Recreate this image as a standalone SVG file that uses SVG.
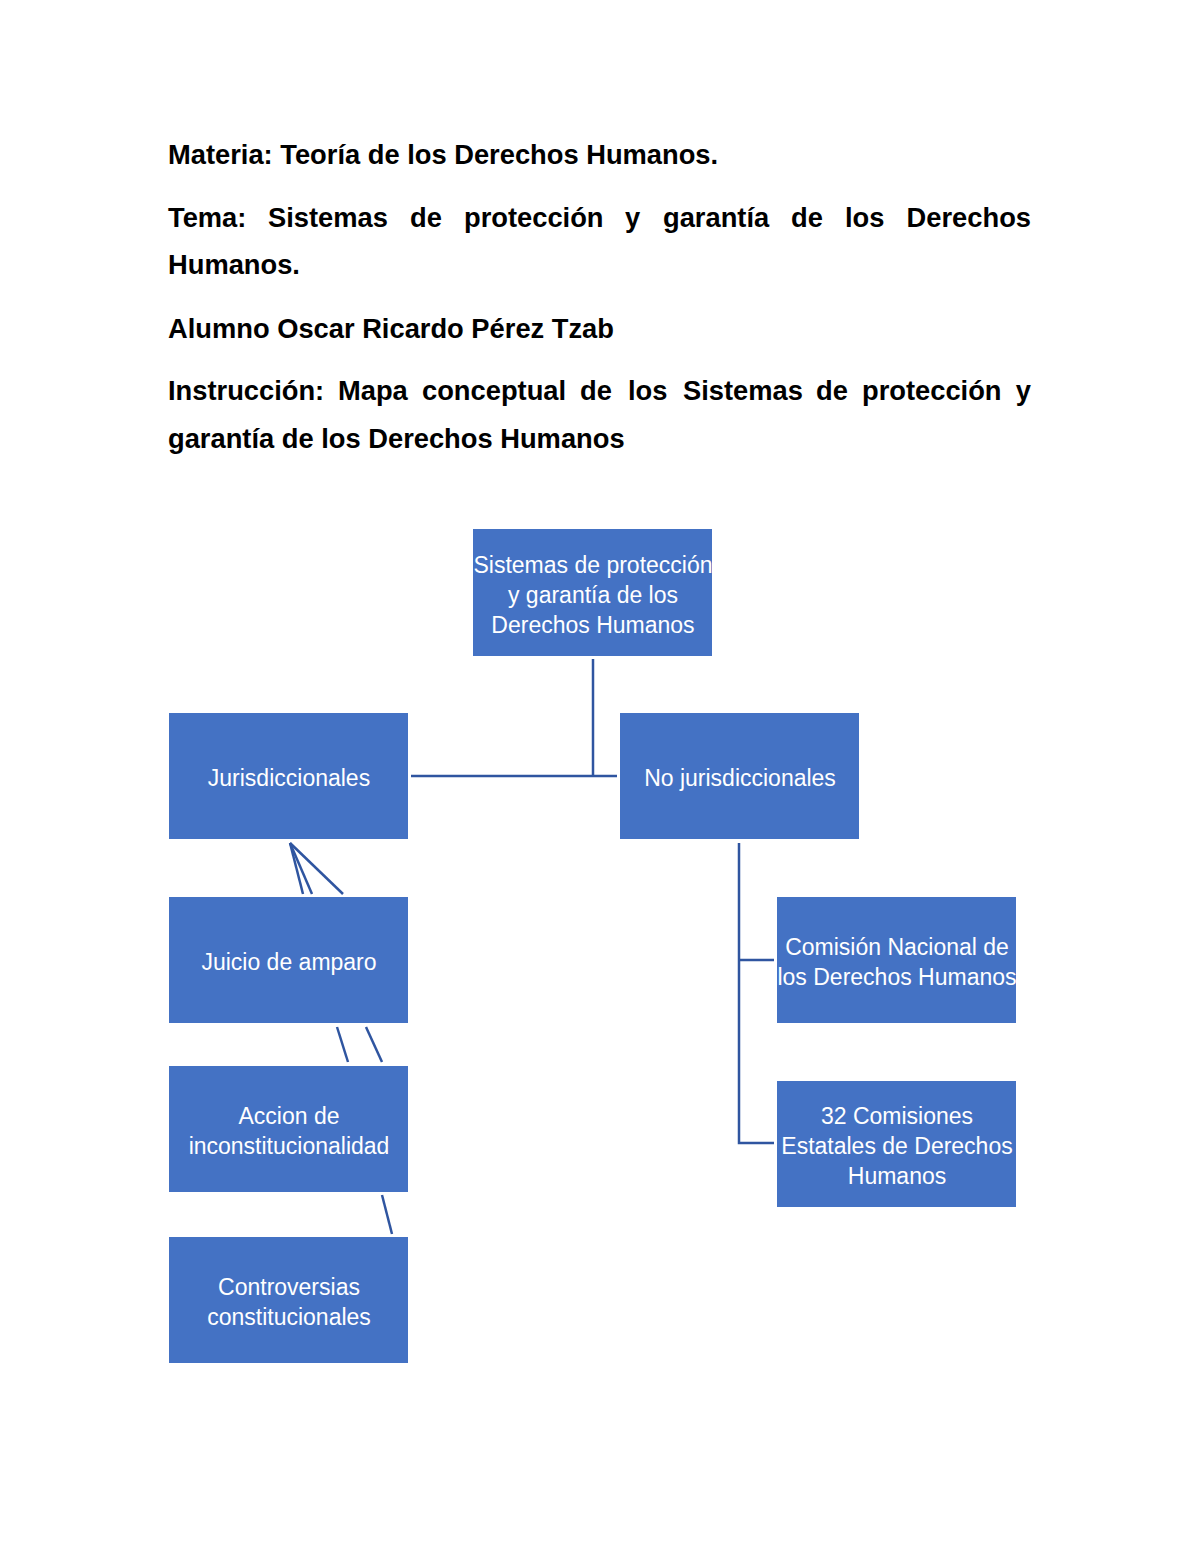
<svg xmlns="http://www.w3.org/2000/svg" width="1200" height="1553" viewBox="0 0 1200 1553">
<style>
.h{font-family:"Liberation Sans",Arial,sans-serif;font-weight:bold;font-size:27.3px;fill:#000}
.box{fill:#4472C4}
.t{font-family:"Liberation Sans",Arial,sans-serif;font-size:23px;fill:#fff;text-anchor:middle}
.c{stroke:#2F55A0;stroke-width:2.5;fill:none}
</style>
<rect width="1200" height="1553" fill="#fff"/>
<g id="header">
<text class="h" x="168" y="164">Materia: Teoría de los Derechos Humanos.</text>
<text class="h" y="227"><tspan x="168">Tema:</tspan><tspan x="268">Sistemas</tspan><tspan x="410">de</tspan><tspan x="464">protección</tspan><tspan x="625">y</tspan><tspan x="663">garantía</tspan><tspan x="791">de</tspan><tspan x="845">los</tspan><tspan x="1031" text-anchor="end">Derechos</tspan></text>
<text class="h" x="168" y="274">Humanos.</text>
<text class="h" x="168" y="338">Alumno Oscar Ricardo Pérez Tzab</text>
<text class="h" y="400"><tspan x="168">Instrucción:</tspan><tspan x="338">Mapa</tspan><tspan x="422">conceptual</tspan><tspan x="580">de</tspan><tspan x="628">los</tspan><tspan x="683">Sistemas</tspan><tspan x="816">de</tspan><tspan x="862">protección</tspan><tspan x="1031" text-anchor="end">y</tspan></text>
<text class="h" x="168" y="448">garantía de los Derechos Humanos</text>
</g>
<g id="connectors">
<line class="c" x1="593" y1="659" x2="593" y2="777"/>
<line class="c" x1="411" y1="776" x2="617" y2="776"/>
<line class="c" x1="290" y1="843" x2="303" y2="894"/>
<line class="c" x1="290" y1="843" x2="312" y2="894"/>
<line class="c" x1="290" y1="843" x2="343" y2="894"/>
<line class="c" x1="337" y1="1027" x2="348" y2="1062"/>
<line class="c" x1="366" y1="1027" x2="382" y2="1062"/>
<line class="c" x1="382" y1="1195" x2="392" y2="1234"/>
<polyline class="c" points="739,843 739,1143 774,1143"/>
<line class="c" x1="739" y1="960" x2="774" y2="960"/>
</g>
<g id="n-root"><rect class="box" x="473" y="529" width="239" height="127"/>
<text class="t" x="593" y="573">Sistemas de protección</text><text class="t" x="593" y="603">y garantía de los</text><text class="t" x="593" y="633">Derechos Humanos</text></g>
<g id="n-jur"><rect class="box" x="169" y="713" width="239" height="126"/><text class="t" x="289" y="786">Jurisdiccionales</text></g>
<g id="n-nojur"><rect class="box" x="620" y="713" width="239" height="126"/><text class="t" x="740" y="786">No jurisdiccionales</text></g>
<g id="n-amparo"><rect class="box" x="169" y="897" width="239" height="126"/><text class="t" x="289" y="970">Juicio de amparo</text></g>
<g id="n-accion"><rect class="box" x="169" y="1066" width="239" height="126"/><text class="t" x="289" y="1124">Accion de</text><text class="t" x="289" y="1154">inconstitucionalidad</text></g>
<g id="n-contro"><rect class="box" x="169" y="1237" width="239" height="126"/><text class="t" x="289" y="1295">Controversias</text><text class="t" x="289" y="1325">constitucionales</text></g>
<g id="n-cndh"><rect class="box" x="777" y="897" width="239" height="126"/><text class="t" x="897" y="955">Comisión Nacional de</text><text class="t" x="897" y="985">los Derechos Humanos</text></g>
<g id="n-32"><rect class="box" x="777" y="1081" width="239" height="126"/><text class="t" x="897" y="1124">32 Comisiones</text><text class="t" x="897" y="1154">Estatales de Derechos</text><text class="t" x="897" y="1184">Humanos</text></g>
</svg>
